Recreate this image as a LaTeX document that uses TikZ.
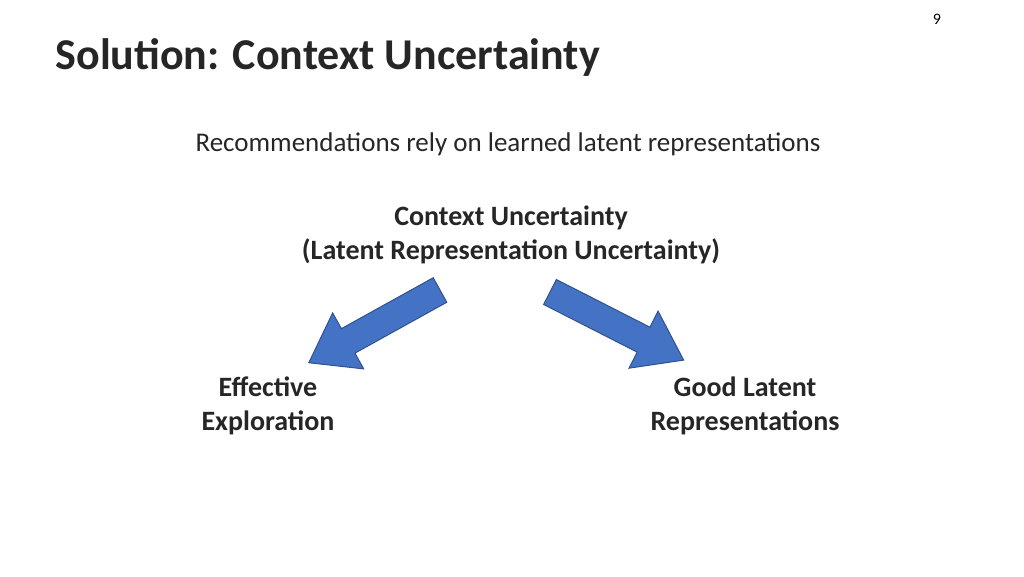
\documentclass[tikz,border=0pt]{standalone}
\usepackage{fontspec}
\setmainfont{Carlito}
\definecolor{arrfill}{HTML}{4472C4}
\definecolor{arrline}{HTML}{2F528F}
\tikzset{
  lbl/.style={font=\fontsize{28}{34}\selectfont\bfseries, align=center, text=black!85},
  blockarrow/.style={fill=arrfill, draw=arrline, line width=1pt}
}
\begin{document}
\begin{tikzpicture}[x=1pt,y=1pt]
\useasboundingbox (0,0) rectangle (1024,576);
\node (num) at (937,557) {\fontsize{16}{18}\selectfont 9};
\node[anchor=west, font=\fontsize{44}{50}\selectfont\bfseries, text=black!85] (title) at (52,519) {Solution: Context Uncertainty};
\node[font=\fontsize{27}{32}\selectfont, text=black!85] (sub) at (508,432) {Recommendations rely on learned latent representations};
\node[lbl] (ctx) at (511,341) {Context Uncertainty\\(Latent Representation Uncertainty)};
\node[lbl] (eff) at (268,170) {Effective\\Exploration};
\node[lbl] (good) at (745,170) {Good Latent\\Representations};
% left arrow
\begin{scope}[shift={(440,286)}, rotate=209]
\draw[blockarrow] (0,-14) -- (105,-14) -- (105,-32) -- (150,0) -- (105,32) -- (105,14) -- (0,14) -- cycle;
\end{scope}
% right arrow
\begin{scope}[shift={(550,284)}, rotate=-27]
\draw[blockarrow] (0,-14) -- (105,-14) -- (105,-32) -- (150,0) -- (105,32) -- (105,14) -- (0,14) -- cycle;
\end{scope}
\end{tikzpicture}
\end{document}
